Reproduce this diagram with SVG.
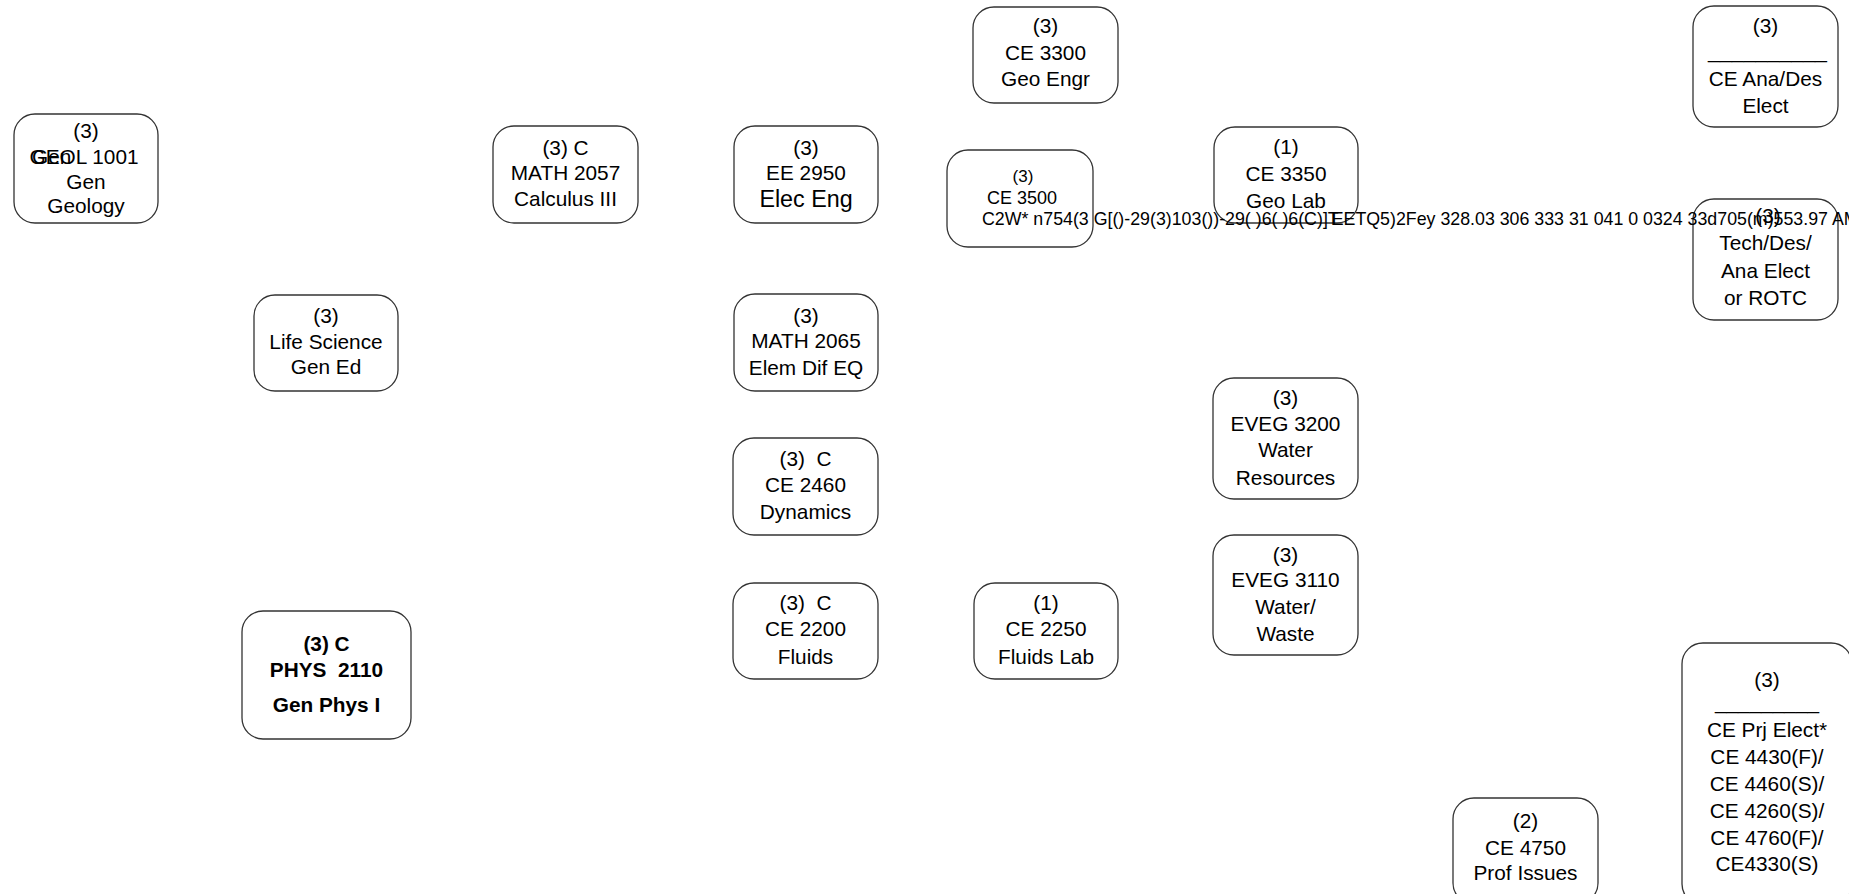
<svg xmlns="http://www.w3.org/2000/svg" width="1849" height="894" viewBox="0 0 1849 894">
<style>
.box{fill:none;stroke:#333;stroke-width:1.3}
text{font-family:"Liberation Sans",Arial,sans-serif;font-size:20.8px;fill:#000;text-anchor:middle}
.b{font-weight:bold}
.s{font-size:17.8px}
.st{text-anchor:start}
</style>
<rect width="1849" height="894" fill="#fff"/>
<g id="connectors"/>
<g id="geol1001">
<rect class="box" x="14" y="114" width="144" height="109" rx="21"/>
<text x="86" y="138">(3)</text>
<text x="84" y="164">GEOL 1001</text>
<text class="st" x="32" y="164">Gen</text>
<text x="86" y="189">Gen</text>
<text x="86" y="213">Geology</text>
</g>
<g id="lifescience">
<rect class="box" x="254" y="295" width="144" height="96" rx="21"/>
<text x="326" y="323">(3)</text>
<text x="326" y="349">Life Science</text>
<text x="326" y="374">Gen Ed</text>
</g>
<g id="phys2110">
<rect class="box" x="242" y="611" width="169" height="128" rx="21"/>
<text class="b" x="326.5" y="651">(3) C</text>
<text class="b" x="326.5" y="677" xml:space="preserve">PHYS  2110</text>
<text class="b" x="326.5" y="712">Gen Phys I</text>
</g>
<g id="math2057">
<rect class="box" x="493" y="126" width="145" height="97" rx="21"/>
<text x="565.5" y="155">(3) C</text>
<text x="565.5" y="180">MATH 2057</text>
<text x="565.5" y="206">Calculus III</text>
</g>
<g id="ee2950">
<rect class="box" x="734" y="126" width="144" height="97" rx="21"/>
<text x="806" y="155">(3)</text>
<text x="806" y="180">EE 2950</text>
<text x="806" y="207" style="font-size:23.3px">Elec Eng</text>
</g>
<g id="math2065">
<rect class="box" x="734" y="294" width="144" height="97" rx="21"/>
<text x="806" y="323">(3)</text>
<text x="806" y="348">MATH 2065</text>
<text x="806" y="375">Elem Dif EQ</text>
</g>
<g id="ce2460">
<rect class="box" x="733" y="438" width="145" height="97" rx="21"/>
<text x="805.5" y="466" xml:space="preserve">(3)  C</text>
<text x="805.5" y="492">CE 2460</text>
<text x="805.5" y="519">Dynamics</text>
</g>
<g id="ce2200">
<rect class="box" x="733" y="583" width="145" height="96" rx="21"/>
<text x="805.5" y="610" xml:space="preserve">(3)  C</text>
<text x="805.5" y="636">CE 2200</text>
<text x="805.5" y="664">Fluids</text>
</g>
<g id="ce2250">
<rect class="box" x="974" y="583" width="144" height="96" rx="21"/>
<text x="1046" y="610">(1)</text>
<text x="1046" y="636">CE 2250</text>
<text x="1046" y="664">Fluids Lab</text>
</g>
<g id="ce3300">
<rect class="box" x="973" y="7" width="145" height="96" rx="21"/>
<text x="1045.5" y="33">(3)</text>
<text x="1045.5" y="60">CE 3300</text>
<text x="1045.5" y="86">Geo Engr</text>
</g>
<g id="ce3350">
<rect class="box" x="1214" y="127" width="144" height="96" rx="21"/>
<text x="1286" y="154">(1)</text>
<text x="1286" y="181">CE 3350</text>
<text x="1286" y="208">Geo Lab</text>
</g>
<g id="eveg3200">
<rect class="box" x="1213" y="378" width="145" height="121" rx="21"/>
<text x="1285.5" y="405">(3)</text>
<text x="1285.5" y="431">EVEG 3200</text>
<text x="1285.5" y="457">Water</text>
<text x="1285.5" y="485">Resources</text>
</g>
<g id="eveg3110">
<rect class="box" x="1213" y="535" width="145" height="120" rx="21"/>
<text x="1285.5" y="562">(3)</text>
<text x="1285.5" y="587">EVEG 3110</text>
<text x="1285.5" y="614">Water/</text>
<text x="1285.5" y="641">Waste</text>
</g>
<g id="ceanades">
<rect class="box" x="1693" y="6" width="145" height="121" rx="21"/>
<text x="1765.5" y="33">(3)</text>
<text x="1767.5" y="58" style="font-size:21.4px">__________</text>
<text x="1765.5" y="86">CE Ana/Des</text>
<text x="1765.5" y="113">Elect</text>
</g>
<g id="techdes">
<rect class="box" x="1693" y="199" width="145" height="121" rx="21"/>
<text x="1768" y="223">(3)</text>
<text x="1765.5" y="250">Tech/Des/</text>
<text x="1765.5" y="278">Ana Elect</text>
<text x="1765.5" y="305">or ROTC</text>
</g>
<g id="ceprj">
<rect class="box" x="1682" y="643" width="170" height="262" rx="21"/>
<text x="1767" y="687">(3)</text>
<text x="1767" y="709">_________</text>
<text x="1767" y="737">CE Prj Elect*</text>
<text x="1767" y="764">CE 4430(F)/</text>
<text x="1767" y="791">CE 4460(S)/</text>
<text x="1767" y="818">CE 4260(S)/</text>
<text x="1767" y="845">CE 4760(F)/</text>
<text x="1767" y="871">CE4330(S)</text>
</g>
<g id="ce4750">
<rect class="box" x="1453" y="798" width="145" height="106" rx="21"/>
<text x="1525.5" y="828">(2)</text>
<text x="1525.5" y="855">CE 4750</text>
<text x="1525.5" y="880">Prof Issues</text>
</g>
<g id="ce3500">
<rect class="box" x="947" y="150" width="146" height="97" rx="21"/>
<text x="1023" y="182" style="font-size:17px">(3)</text>
<text class="s" x="1022" y="204" style="font-size:18px">CE 3500</text>
<text class="s st" x="982" y="225" xml:space="preserve">C2W* n754(3 G[()-29(3)103())-29( )6( )6(C)]T<tspan dx="-7">E</tspan>ETQ5)2Fey 328.03 306 333 31 041 0 0324 33d705(m)553.97 AM</text>
</g>
</svg>
